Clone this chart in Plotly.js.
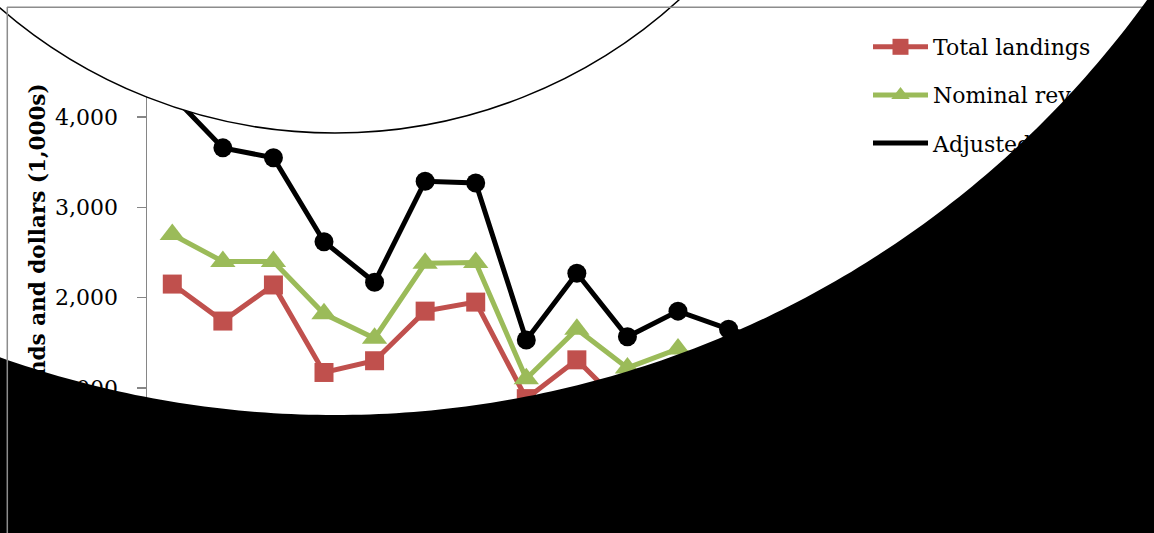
<!DOCTYPE html>
<html>
<head>
<meta charset="utf-8">
<script src="https://cdn.plot.ly/plotly-3.0.1.min.js"></script>
<style>
  html, body { margin: 0; padding: 0; background: #ffffff; }
  #chart { width: 1154px; height: 533px; }
</style>
</head>
<body>
<div id="chart"></div>
<script>
// Season labels along the category axis
const years = ['1997', '1998', '1999', '2000', '2001', '2002', '2003',
               '2004', '2005', '2006', '2007', '2008', '2009', '2010'];

// Series values, in thousands of pounds / dollars
const totalLandings   = [2150, 1740, 2140, 1170, 1300, 1850, 1950, 880, 1310, 750, 900, 800, 700, 850];
const nominalRevenue  = [2700, 2400, 2400, 1820, 1550, 2380, 2390, 1100, 1650, 1220, 1430, 1200, 1100, 1250];
const adjustedRevenue = [4240, 3660, 3550, 2620, 2170, 3290, 3270, 1530, 2270, 1565, 1850, 1650, 1500, 1700];

// Value-axis ticks
const yTickVals = [0, 1000, 2000, 3000, 4000, 5000];
const yTickText = ['0', '1,000', '2,000', '3,000', '4,000', '5,000'];

// Figure geometry (pixels)
const W = 1154, H = 533;
const M = { l: 147, r: 299, t: 27, b: 55 };
const PW = W - M.l - M.r, PH = H - M.t - M.b;
const px2x = p => (p - M.l) / PW;
const py2y = p => (H - M.b - p) / PH;

// White disc with a thin outline across the upper part of the figure
const disc = { cx: 335, cy: -378, r: 511 };
// Solid black field outside a very large disc
const big = { cx: 335, cy: -587, r: 1002 };

function maskPath() {
  const pts = [];
  const n = 720;
  for (let i = 0; i < n; i++) {
    const a = 2 * Math.PI * i / n;
    pts.push([big.cx + big.r * Math.cos(a), big.cy + big.r * Math.sin(a)]);
  }
  const f = ([x, y]) => px2x(x).toFixed(5) + ',' + py2y(y).toFixed(5);
  let d = 'M' + f([-20, -20]) + 'L' + f([W + 20, -20]) + 'L' + f([W + 20, H + 20]) + 'L' + f([-20, H + 20]) + 'Z';
  d += 'M' + pts.map(f).join('L') + 'Z';
  return d;
}

const serif = 'DejaVu Serif, Liberation Serif, serif';
const RED = '#C0504D', GREEN = '#9BBB59', BLACK = '#000000', AXIS = '#868686';

const data = [
  {
    x: years, y: totalLandings, name: 'Total landings',
    type: 'scatter', mode: 'lines+markers', legendgroup: 'a',
    line: { color: RED, width: 5 },
    marker: { symbol: 'square', size: 19, color: RED }
  },
  {
    x: years, y: nominalRevenue, name: 'Nominal revenue',
    type: 'scatter', mode: 'lines+markers', legendgroup: 'b',
    line: { color: GREEN, width: 5 },
    marker: { symbol: 'triangle-up', size: 22, color: GREEN }
  },
  {
    x: years, y: adjustedRevenue, name: 'Adjusted revenue',
    type: 'scatter', mode: 'lines', legendgroup: 'c',
    line: { color: BLACK, width: 5 }
  },
  {
    x: years, y: adjustedRevenue, name: 'Adjusted revenue',
    type: 'scatter', mode: 'markers', legendgroup: 'c', showlegend: false,
    marker: { symbol: 'circle', size: 19, color: BLACK }
  }
];

const layout = {
  width: W, height: H,
  margin: M,
  paper_bgcolor: '#ffffff', plot_bgcolor: '#ffffff',
  showlegend: true,
  legend: {
    x: px2x(868), y: py2y(26), xanchor: 'left', yanchor: 'top',
    font: { family: serif, size: 22, color: '#000000' },
    bgcolor: 'rgba(0,0,0,0)', borderwidth: 0,
    itemwidth: 55, tracegroupgap: 16.5
  },
  xaxis: {
    type: 'category', range: [-0.5, 13.5],
    showline: true, linecolor: AXIS, linewidth: 1.5,
    ticks: 'outside', ticklen: 9, tickcolor: AXIS, tickwidth: 1.5,
    showgrid: false, zeroline: false,
    tickfont: { family: serif, size: 18, color: '#000000' }
  },
  yaxis: {
    range: [0, 5000],
    tickvals: yTickVals, ticktext: yTickText,
    showline: true, linecolor: AXIS, linewidth: 1.5,
    ticks: 'outside', ticklen: 9, tickcolor: AXIS, tickwidth: 1.5,
    ticklabelstandoff: 14,
    showgrid: false, zeroline: false,
    tickfont: { family: serif, size: 22, color: '#000000' },
    title: {
      text: 'Pounds and dollars (1,000s)',
      font: { family: serif, size: 21.5, color: '#000000', weight: 700 },
      standoff: 3
    }
  },
  shapes: [
    {
      type: 'circle', xref: 'paper', yref: 'paper', layer: 'above',
      x0: px2x(disc.cx - disc.r), x1: px2x(disc.cx + disc.r),
      y0: py2y(disc.cy - disc.r), y1: py2y(disc.cy + disc.r),
      fillcolor: '#ffffff', line: { color: '#000000', width: 1.5 }
    },
    {
      type: 'line', xref: 'paper', yref: 'paper', layer: 'above',
      x0: px2x(7), x1: px2x(W + 5), y0: py2y(7.3), y1: py2y(7.3),
      line: { color: '#8c8c8c', width: 1.5 }
    },
    {
      type: 'path', xref: 'paper', yref: 'paper', layer: 'above',
      path: maskPath(), fillrule: 'evenodd',
      fillcolor: '#000000', line: { width: 0 }
    },
    {
      type: 'line', xref: 'paper', yref: 'paper', layer: 'above',
      x0: px2x(7.3), x1: px2x(7.3), y0: py2y(7), y1: py2y(H + 5),
      line: { color: '#8c8c8c', width: 1.5 }
    }
  ]
};

const gd = document.getElementById('chart');
Plotly.newPlot(gd, data, layout, { staticPlot: true, displayModeBar: false }).then(() => {
  // Lift the shape layer above the legend and axis titles
  const above = gd.querySelector('.layer-above');
  const info = gd.querySelector('.infolayer');
  if (above && info && info.ownerSVGElement) {
    info.ownerSVGElement.appendChild(above);
  }
});
</script>
</body>
</html>
